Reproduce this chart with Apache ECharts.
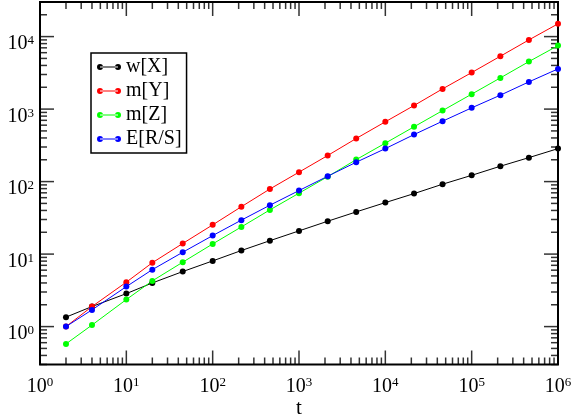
<!DOCTYPE html>
<html>
<head>
<meta charset="utf-8">
<script src="https://cdn.jsdelivr.net/npm/echarts@6/dist/echarts.min.js"></script>
<style>
    html, body {margin: 0; padding: 0; background: #fff;}
    #chart {width: 572px; height: 418px;}
</style>
</head>
<body>
<div id="chart"></div>
<script>
// t values (x)
const tValues = [2, 4, 10, 20, 45, 100, 215, 460, 1000, 2150, 4600, 10000, 21500, 46000, 100000, 215000, 460000, 1000000];
// series values
const wX = [1.35, 1.89, 2.85, 4.0, 5.74, 8.05, 11.2, 15.3, 20.9, 28.4, 38.2, 51.3, 68.3, 92, 122, 163, 214, 285];
const mY = [1.0, 1.89, 4.1, 7.6, 14, 25.3, 45, 79, 135, 229, 393, 668, 1120, 1900, 3190, 5360, 9000, 15000];
const mZ = [0.577, 1.05, 2.36, 4.27, 7.73, 13.8, 23.7, 40.7, 69.2, 117, 201, 339, 570, 953, 1607, 2693, 4520, 7510];
const ERS = [1.0, 1.70, 3.56, 6.1, 10.6, 18, 29.4, 47.2, 75.2, 118.6, 185, 285, 445, 681, 1040, 1556, 2373, 3585];

// axis ranges and ticks
const xRange = [1, 1000000];
const yRange = [0.3, 30000];
const xDecades = [1, 10, 100, 1000, 10000, 100000, 1000000];
const yDecades = [0.1, 1, 10, 100, 1000, 10000];
const minorSteps = [2, 3, 4, 5, 6, 7, 8, 9];

const FONT = 'Liberation Serif';

function tickList(decades, range) {
    let out = [];
    decades.forEach(d => {
        if (d >= range[0] && d <= range[1]) out.push({v: d, major: true});
        minorSteps.forEach(m => {
            let v = d * m;
            if (v > range[0] && v < range[1]) out.push({v: v, major: false});
        });
    });
    return out;
}
const xTicks = tickList(xDecades, xRange);
const yTicks = tickList(yDecades, yRange);

const MAJOR = 14, MINOR = 7, TICK_W = 1.5;

function pow10Label(v) {
    let e = Math.log10(v);
    if (Math.abs(e - Math.round(e)) > 1e-6) return '';
    return '{b|10}{s|' + Math.round(e) + '}';
}
const richLabel = {
    b: {fontFamily: FONT, fontSize: 20, lineHeight: 20, color: '#000', verticalAlign: 'bottom'},
    s: {fontFamily: FONT, fontSize: 13, lineHeight: 13, color: '#000', verticalAlign: 'top', padding: [0, 0, 12, 0]}
};

const legendIcon = 'path://M0,3 a3,3 0 1,0 6,0 a3,3 0 1,0 -6,0 Z M18,3 a3,3 0 1,0 6,0 a3,3 0 1,0 -6,0 Z M3,2.5 L21,2.5 L21,3.5 L3,3.5 Z';

function lineSeries(name, values, color) {
    return {
        name: name,
        type: 'line',
        data: tValues.map((t, i) => [t, values[i]]),
        symbol: 'circle',
        symbolSize: 6,
        color: color,
        z: 2,
        lineStyle: {width: 1, color: color},
        itemStyle: {color: color, borderWidth: 0},
        emphasis: {disabled: true},
        animation: false
    };
}

// tick marks drawn as rect symbols sitting on the frame, one series per side
// dir: [dx, dy] points from the frame into the plot
function tickSeries(ticks, onX, fixed, dir) {
    return {
        type: 'scatter',
        silent: true,
        clip: false,
        z: 1,
        symbol: 'rect',
        itemStyle: {color: '#000', borderWidth: 0},
        emphasis: {disabled: true},
        animation: false,
        data: ticks.map(k => {
            let len = k.major ? MAJOR : MINOR;
            return {
                value: onX ? [k.v, fixed] : [fixed, k.v],
                symbolSize: onX ? [TICK_W, len] : [len, TICK_W],
                symbolOffset: [dir[0] * len / 2, dir[1] * len / 2]
            };
        })
    };
}

const chart = echarts.init(document.getElementById('chart'), null, {renderer: 'canvas'});

chart.setOption({
    animation: false,
    grid: {
        left: 40, right: 14, top: 2, bottom: 53.5,
        outerBoundsMode: 'none',
        show: true, borderColor: '#000', borderWidth: 2
    },
    legend: {
        data: ['w[X]', 'm[Y]', 'm[Z]', 'E[R/S]'],
        orient: 'vertical',
        left: 91, top: 53,
        padding: [4, 5, 4, 6],
        itemGap: 4,
        itemWidth: 24, itemHeight: 6,
        icon: legendIcon,
        itemStyle: {borderWidth: 0},
        backgroundColor: '#fff',
        borderColor: '#000',
        borderWidth: 1.5,
        textStyle: {fontFamily: FONT, fontSize: 20, color: '#000', lineHeight: 20}
    },
    xAxis: {
        type: 'log',
        logBase: 10,
        min: xRange[0], max: xRange[1],
        name: 't',
        nameLocation: 'middle',
        nameGap: 33,
        nameMoveOverlap: false,
        nameTextStyle: {fontFamily: FONT, fontSize: 21, color: '#000'},
        axisLine: {show: false},
        axisTick: {show: false},
        splitLine: {show: false},
        axisLabel: {margin: 12, formatter: pow10Label, rich: richLabel, showMinLabel: true, showMaxLabel: true}
    },
    yAxis: {
        type: 'log',
        logBase: 10,
        min: yRange[0], max: yRange[1],
        axisLine: {show: false},
        axisTick: {show: false},
        splitLine: {show: false},
        axisLabel: {margin: 6, padding: [15, 0, 0, 0], formatter: pow10Label, rich: richLabel}
    },
    series: [
        tickSeries(xTicks, true, yRange[0], [0, -1]),
        tickSeries(xTicks, true, yRange[1], [0, 1]),
        tickSeries(yTicks, false, xRange[0], [1, 0]),
        tickSeries(yTicks, false, xRange[1], [-1, 0]),
        lineSeries('w[X]', wX, '#000000'),
        lineSeries('m[Y]', mY, '#ff0000'),
        lineSeries('m[Z]', mZ, '#00ff00'),
        lineSeries('E[R/S]', ERS, '#0000ff')
    ]
});
</script>
</body>
</html>
